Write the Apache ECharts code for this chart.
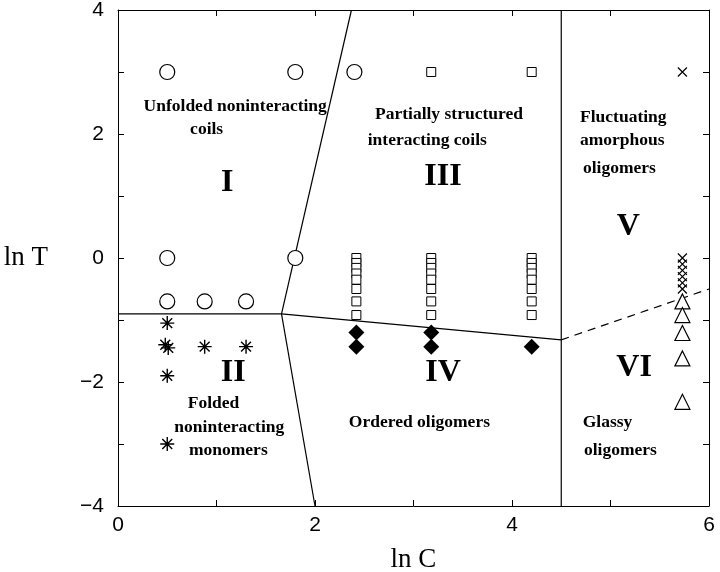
<!DOCTYPE html>
<html lang="en">
<head>
  <meta charset="UTF-8">
  <script src="https://cdn.jsdelivr.net/npm/echarts@6.0.0/dist/echarts.min.js"></script>
</head>
<body style="margin:0;background:#fff;">
  <div id="main" style="width:720px;height:572px;"></div>
  <script type="text/javascript">
    // ---- data (ln C, ln T) ----
    const circles = [[0.5, 3], [1.8, 3], [2.4, 3], [0.5, 0], [1.8, 0], [0.5, -0.7], [0.88, -0.7], [1.3, -0.7]];
    const stars = [[0.5, -1.05], [0.48, -1.4], [0.51, -1.45], [0.88, -1.43], [1.3, -1.43], [0.5, -1.9], [0.5, -3.0]];
    const squares = [
      [3.18, 3], [4.2, 3],
      [2.42, 0], [2.42, -0.08], [2.42, -0.16], [2.42, -0.25], [2.42, -0.35], [2.42, -0.5], [2.42, -0.7], [2.42, -0.92],
      [3.18, 0], [3.18, -0.08], [3.18, -0.16], [3.18, -0.25], [3.18, -0.35], [3.18, -0.5], [3.18, -0.7], [3.18, -0.92],
      [4.2, 0], [4.2, -0.08], [4.2, -0.16], [4.2, -0.25], [4.2, -0.35], [4.2, -0.5], [4.2, -0.7], [4.2, -0.92]
    ];
    const diamonds = [[2.42, -1.2], [2.42, -1.43], [3.18, -1.2], [3.18, -1.43], [4.2, -1.43]];
    const crosses = [[5.73, 3], [5.73, 0], [5.73, -0.1], [5.73, -0.2], [5.73, -0.3], [5.73, -0.4], [5.73, -0.5]];
    const triangles = [[5.73, -0.7], [5.73, -0.92], [5.73, -1.21], [5.73, -1.62], [5.73, -2.32]];

    // phase boundaries
    const boundaries = [
      [[0, -0.9], [1.66, -0.9]],
      [[1.66, -0.9], [2.37, 4]],
      [[1.66, -0.9], [2.0, -4]],
      [[1.66, -0.9], [4.5, -1.32]],
      [[4.5, -4], [4.5, 4]]
    ];
    const dashedBoundary = [[4.5, -1.32], [6, -0.5]];

    // region annotations
    const romanLabels = [
      ['I', 1.11, 1.21], ['III', 3.30, 1.31], ['II', 1.17, -1.85],
      ['IV', 3.30, -1.85], ['V', 5.18, 0.50], ['VI', 5.24, -1.77]
    ];
    const textLabels = [
      ['Unfolded noninteracting', 1.19, 2.44], ['coils', 0.90, 2.08],
      ['Partially structured', 3.36, 2.31], ['interacting coils', 3.14, 1.90],
      ['Fluctuating', 5.13, 2.27], ['amorphous', 5.12, 1.90], ['oligomers', 5.09, 1.44],
      ['Folded', 0.97, -2.34], ['noninteracting', 1.13, -2.73], ['monomers', 1.12, -3.10],
      ['Ordered oligomers', 3.06, -2.66],
      ['Glassy', 4.97, -2.66], ['oligomers', 5.10, -3.10]
    ];

    const starPath = 'path://M0,-10L0,10M-10,0L10,0M-7.07,-7.07L7.07,7.07M-7.07,7.07L7.07,-7.07';
    const crossPath = 'path://M-10,-10L10,10M-10,10L10,-10';
    const serif = '"Liberation Serif", "DejaVu Serif", serif';
    const sans = '"Liberation Sans", Arial, sans-serif';

    const minusFmt = v => (v % 2 === 0 ? String(v).replace('-', '\u2212') : '');

    function frameAxis(pos, isX, show) {
      return {
        type: 'value', position: pos, min: isX ? 0 : -4, max: isX ? 6 : 4, interval: 1,
        axisLine: { show: true, onZero: false, lineStyle: { color: '#000', width: 1 } },
        axisTick: { show: true, inside: true, length: 6, lineStyle: { color: '#000' } },
        axisLabel: show ? {
          formatter: minusFmt, color: '#000', fontSize: 21, fontFamily: sans, margin: isX ? 9 : 14
        } : { show: false },
        splitLine: { show: false }
      };
    }

    const lineSeries = boundaries.map(seg => ({
      type: 'line', data: seg, symbol: 'none', silent: true,
      lineStyle: { color: '#000', width: 1.2 }
    }));

    function markerSeries(data, symbol, size, fill, stroke, bw) {
      return {
        type: 'scatter', data: data, symbol: symbol, symbolSize: size, z: 5,
        itemStyle: { color: fill, borderColor: stroke, borderWidth: bw, opacity: 1 }
      };
    }

    function labelSeries(list, size) {
      return {
        type: 'scatter', symbolSize: 0, silent: true, z: 6,
        itemStyle: { opacity: 1 },
        data: list.map(l => ({ name: l[0], value: [l[1], l[2]] })),
        label: {
          show: true, position: 'inside', formatter: '{b}', color: '#000', opacity: 1,
          fontFamily: serif, fontWeight: 'bold', fontSize: size
        }
      };
    }

    const chart = echarts.init(document.getElementById('main'));
    chart.setOption({
      animation: false,
      backgroundColor: '#fff',
      grid: { left: 118, right: 11, top: 10, bottom: 66, outerBoundsMode: 'none', containLabel: false },
      xAxis: [
        Object.assign(frameAxis('bottom', true, true), {
          name: 'ln C', nameLocation: 'middle', nameGap: 40,
          nameTextStyle: { fontFamily: serif, fontSize: 27, color: '#000' }
        }),
        frameAxis('top', true, false)
      ],
      yAxis: [
        Object.assign(frameAxis('left', false, true), {
          name: 'ln T', nameLocation: 'middle', nameGap: 70, nameRotate: 0,
          nameTextStyle: { fontFamily: serif, fontSize: 27, color: '#000' }
        }),
        frameAxis('right', false, false)
      ],
      series: [
        ...lineSeries,
        {
          type: 'line', data: dashedBoundary, symbol: 'none', silent: true,
          lineStyle: { color: '#000', width: 1.2, type: [8, 6] }
        },
        markerSeries(circles, 'circle', 15, '#fff', '#000', 1.2),
        markerSeries(stars, starPath, 14, 'transparent', '#000', 1.4),
        markerSeries(squares, 'rect', 9, '#fff', '#000', 1),
        markerSeries(diamonds, 'diamond', 16, '#000', '#000', 0),
        markerSeries(crosses, crossPath, 9, 'transparent', '#000', 1.2),
        markerSeries(triangles, 'triangle', 15, '#fff', '#000', 1.2),
        labelSeries(romanLabels, 32),
        labelSeries(textLabels, 17.5)
      ]
    });
  </script>
</body>
</html>
